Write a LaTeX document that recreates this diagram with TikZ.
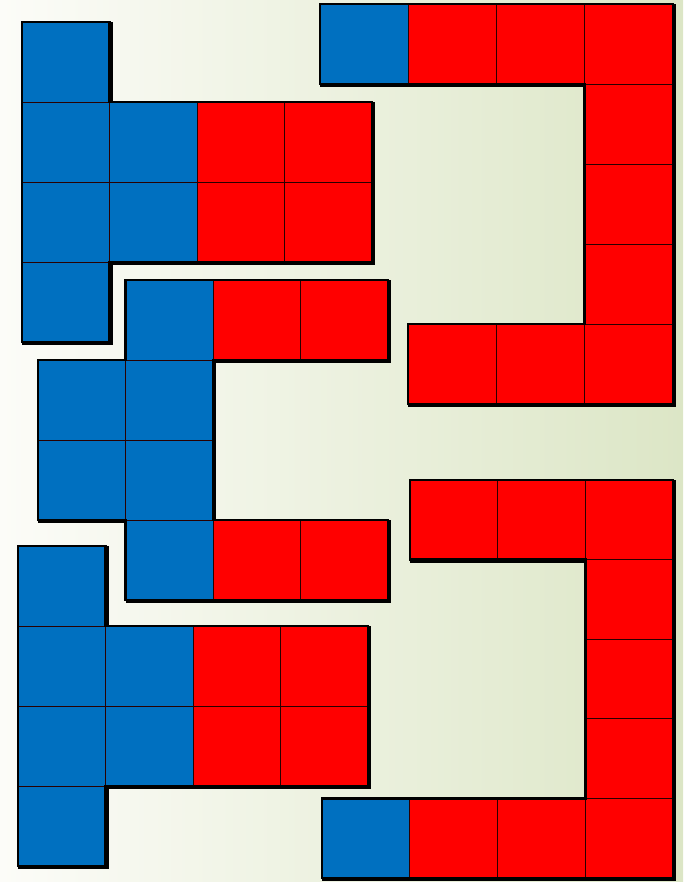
\documentclass[tikz,border=0pt]{standalone}
\usepackage{xcolor}
\usepackage{tikz}

\definecolor{tileblue}{RGB}{0,112,192}
\definecolor{tilered}{RGB}{255,0,0}
\definecolor{bgleft}{RGB}{252,252,248}
\definecolor{bgright}{RGB}{220,230,198}

\tikzset{
  bluesq/.style={fill=tileblue},
  redsq/.style={fill=tilered},
  seam/.style={draw=black!60!red!40!black, line width=0.9pt},
  rim/.style={draw=black, line width=2.4pt, line join=miter},
  rimshade/.style={draw=black, line width=2.8pt, shift={(1.6pt,-1.6pt)}},
}

\begin{document}
\begin{tikzpicture}[x=1pt, y=-1pt]
  % Background
  \useasboundingbox (0,0) rectangle (683,882);
  \shade[left color=bgleft, right color=bgright] (0,0) rectangle (683,882);

  % ===== Piece A: top left =====
  \begin{scope}[shift={(22,22)}, x=87.5pt, y=-80pt]
    \def\cells{0/0/bluesq, 0/1/bluesq, 0/2/bluesq, 0/3/bluesq,
               1/1/bluesq, 1/2/bluesq,
               2/1/redsq, 2/2/redsq, 3/1/redsq, 3/2/redsq}
    \draw[rimshade] (0,0) -- (1,0) -- (1,1) -- (4,1) -- (4,3) -- (1,3) -- (1,4) -- (0,4) -- cycle;
    \foreach \c/\r/\sq in \cells \path[\sq] (\c,\r) rectangle ++(1,1);
    \foreach \c/\r/\sq in \cells \path[seam] (\c,\r) rectangle ++(1,1);
    \draw[rim] (0,0) -- (1,0) -- (1,1) -- (4,1) -- (4,3) -- (1,3) -- (1,4) -- (0,4) -- cycle;
  \end{scope}

  % ===== Piece B: top right =====
  \begin{scope}[shift={(320,4)}, x=88.2pt, y=-80pt]
    \def\cells{0/0/bluesq, 1/0/redsq, 2/0/redsq, 3/0/redsq,
               3/1/redsq, 3/2/redsq, 3/3/redsq, 3/4/redsq,
               1/4/redsq, 2/4/redsq}
    \draw[rimshade] (0,0) -- (4,0) -- (4,5) -- (1,5) -- (1,4) -- (3,4) -- (3,1) -- (0,1) -- cycle;
    \foreach \c/\r/\sq in \cells \path[\sq] (\c,\r) rectangle ++(1,1);
    \foreach \c/\r/\sq in \cells \path[seam] (\c,\r) rectangle ++(1,1);
    \draw[rim] (0,0) -- (4,0) -- (4,5) -- (1,5) -- (1,4) -- (3,4) -- (3,1) -- (0,1) -- cycle;
  \end{scope}

  % ===== Piece C: middle left =====
  \begin{scope}[shift={(38,280)}, x=87.5pt, y=-80pt]
    \def\cells{1/0/bluesq, 2/0/redsq, 3/0/redsq,
               0/1/bluesq, 1/1/bluesq, 0/2/bluesq, 1/2/bluesq,
               1/3/bluesq, 2/3/redsq, 3/3/redsq}
    \draw[rimshade] (1,0) -- (4,0) -- (4,1) -- (2,1) -- (2,3) -- (4,3) -- (4,4) -- (1,4) -- (1,3) -- (0,3) -- (0,1) -- (1,1) -- cycle;
    \foreach \c/\r/\sq in \cells \path[\sq] (\c,\r) rectangle ++(1,1);
    \foreach \c/\r/\sq in \cells \path[seam] (\c,\r) rectangle ++(1,1);
    \draw[rim] (1,0) -- (4,0) -- (4,1) -- (2,1) -- (2,3) -- (4,3) -- (4,4) -- (1,4) -- (1,3) -- (0,3) -- (0,1) -- (1,1) -- cycle;
  \end{scope}

  % ===== Piece D: bottom left =====
  \begin{scope}[shift={(18,546)}, x=87.5pt, y=-80pt]
    \def\cells{0/0/bluesq, 0/1/bluesq, 0/2/bluesq, 0/3/bluesq,
               1/1/bluesq, 1/2/bluesq,
               2/1/redsq, 2/2/redsq, 3/1/redsq, 3/2/redsq}
    \draw[rimshade] (0,0) -- (1,0) -- (1,1) -- (4,1) -- (4,3) -- (1,3) -- (1,4) -- (0,4) -- cycle;
    \foreach \c/\r/\sq in \cells \path[\sq] (\c,\r) rectangle ++(1,1);
    \foreach \c/\r/\sq in \cells \path[seam] (\c,\r) rectangle ++(1,1);
    \draw[rim] (0,0) -- (1,0) -- (1,1) -- (4,1) -- (4,3) -- (1,3) -- (1,4) -- (0,4) -- cycle;
  \end{scope}

  % ===== Piece E: bottom right =====
  \begin{scope}[shift={(322,480)}, x=87.8pt, y=-79.6pt]
    \def\cells{1/0/redsq, 2/0/redsq, 3/0/redsq,
               3/1/redsq, 3/2/redsq, 3/3/redsq, 3/4/redsq,
               0/4/bluesq, 1/4/redsq, 2/4/redsq}
    \draw[rimshade] (1,0) -- (4,0) -- (4,5) -- (0,5) -- (0,4) -- (3,4) -- (3,1) -- (1,1) -- cycle;
    \foreach \c/\r/\sq in \cells \path[\sq] (\c,\r) rectangle ++(1,1);
    \foreach \c/\r/\sq in \cells \path[seam] (\c,\r) rectangle ++(1,1);
    \draw[rim] (1,0) -- (4,0) -- (4,5) -- (0,5) -- (0,4) -- (3,4) -- (3,1) -- (1,1) -- cycle;
  \end{scope}
\end{tikzpicture}
\end{document}
